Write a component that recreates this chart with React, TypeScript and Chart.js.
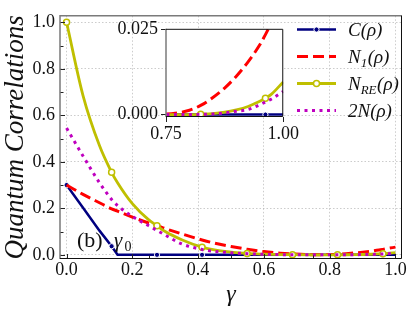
import React, { useEffect, useRef } from "react";
import { Chart, registerables } from "chart.js";

Chart.register(...registerables);

// ---------- data ----------
const GAMMA = [0, 0.05, 0.1, 0.137, 0.155, 0.2, 0.25, 0.275, 0.3, 0.35, 0.412, 0.45, 0.5, 0.549, 0.6, 0.65, 0.687, 0.75, 0.8, 0.824, 0.85, 0.875, 0.9, 0.925, 0.95, 0.962, 0.975, 1.0];
const C_RHO = [0.3, 0.202, 0.104, 0.037, 0, 0, 0, 0, 0, 0, 0, 0, 0, 0, 0, 0, 0, 0, 0, 0, 0, 0, 0, 0, 0, 0, 0, 0];
const N1_RHO = [0.3, 0.26, 0.224, 0.198, 0.188, 0.162, 0.137, 0.126, 0.113, 0.09, 0.064, 0.05, 0.036, 0.024, 0.014, 0.007, 0.0035, 0.0002, 0.0013, 0.0027, 0.005, 0.0078, 0.0113, 0.0155, 0.0205, 0.0235, 0.027, 0.033];
const NRE_RHO = [1.0, 0.685, 0.47, 0.355, 0.31, 0.22, 0.15, 0.125, 0.1, 0.065, 0.033, 0.021, 0.012, 0.006, 0.003, 0.0012, 0.0005, 0, 0, 0.0001, 0.0003, 0.0007, 0.0014, 0.0024, 0.0039, 0.0048, 0.006, 0.0096];
const TWO_N_RHO = [0.545, 0.425, 0.31, 0.238, 0.212, 0.165, 0.125, 0.105, 0.085, 0.047, 0.023, 0.015, 0.009, 0.005, 0.002, 0.0008, 0.0003, 0, 0, 0.0001, 0.0002, 0.0005, 0.001, 0.0015, 0.0029, 0.0037, 0.0046, 0.0068];
const MARKER_GAMMA = [0, 0.137, 0.275, 0.412, 0.549, 0.687, 0.824, 0.962];

const X_TICKS = [0, 0.2, 0.4, 0.6, 0.8, 1.0];
const Y_TICKS = [0, 0.2, 0.4, 0.6, 0.8, 1.0];
const X_MINOR = [0.25, 0.5, 0.75];
const Y_MINOR = [0.1, 0.3, 0.5, 0.7, 0.9];
const INSET_X_TICKS = [0.75, 1.0];
const INSET_Y_TICKS = [0, 0.025];

const SERIES_NAMES = ["C(ρ)", "N₁(ρ)", "N_RE(ρ)", "2N(ρ)"];
const LEGEND_PARTS = [
  [{ t: "C(ρ)" }],
  [{ t: "N" }, { t: "1", sub: true }, { t: "(ρ)" }],
  [{ t: "N" }, { t: "RE", sub: true }, { t: "(ρ)" }],
  [{ t: "2N(ρ)" }],
];
const X_TITLE = "γ";
const Y_TITLE = "Quantum Correlations";
const PANEL_LABEL = "(b)";
const PANEL_SYMBOL = "γ";
const PANEL_SUB = "0";

// ---------- styles ----------
const SERIF = '"Liberation Serif", "DejaVu Serif", serif';
const NAVY = "#000080";
const RED = "#ff0000";
const OLIVE = "#bfbf00";
const MAGENTA = "#bf00bf";
const GRID = "rgba(170,170,170,0.75)";
const TEXT = "#111";

const isMark = (c: any) => MARKER_GAMMA.includes(GAMMA[c.dataIndex]);
const pts = (vals: number[]) => GAMMA.map((g, i) => ({ x: g, y: vals[i] }));

function makeDatasets() {
  return [
    {
      label: SERIES_NAMES[0],
      data: pts(C_RHO),
      borderColor: NAVY,
      borderWidth: 2.5,
      tension: 0,
      pointRadius: (c: any) => (isMark(c) ? 2.6 : 0),
      pointBackgroundColor: NAVY,
      pointBorderColor: "#ffffff",
      pointBorderWidth: 1,
      order: 3,
    },
    {
      label: SERIES_NAMES[1],
      data: pts(N1_RHO),
      borderColor: RED,
      borderWidth: 3,
      borderDash: [11, 5],
      cubicInterpolationMode: "monotone",
      pointRadius: 0,
      order: 2,
    },
    {
      label: SERIES_NAMES[2],
      data: pts(NRE_RHO),
      borderColor: OLIVE,
      borderWidth: 2.8,
      cubicInterpolationMode: "monotone",
      pointRadius: (c: any) => (isMark(c) ? 3 : 0),
      pointBackgroundColor: "#ffffff",
      pointBorderColor: OLIVE,
      pointBorderWidth: 1.5,
      order: 1,
    },
    {
      label: SERIES_NAMES[3],
      data: pts(TWO_N_RHO),
      borderColor: MAGENTA,
      borderWidth: 3,
      borderDash: [3, 4.5],
      cubicInterpolationMode: "monotone",
      pointRadius: 0,
      order: 0,
    },
  ];
}

function drawLegend(ctx: CanvasRenderingContext2D) {
  const x0 = 297, x1 = 336, tx = 348, y0 = 29.5, dy = 27;
  const styles = [
    { color: NAVY, w: 2.5, dash: [], marker: "dot" },
    { color: RED, w: 3, dash: [11, 5], marker: "" },
    { color: OLIVE, w: 2.8, dash: [], marker: "circle" },
    { color: MAGENTA, w: 3, dash: [3, 4.5], marker: "" },
  ];
  ctx.save();
  styles.forEach((s, i) => {
    const y = y0 + i * dy;
    ctx.beginPath();
    ctx.setLineDash(s.dash);
    ctx.strokeStyle = s.color;
    ctx.lineWidth = s.w;
    ctx.moveTo(x0, y);
    ctx.lineTo(x1, y);
    ctx.stroke();
    ctx.setLineDash([]);
    const mx = (x0 + x1) / 2;
    if (s.marker === "dot") {
      ctx.beginPath();
      ctx.fillStyle = s.color;
      ctx.strokeStyle = "#fff";
      ctx.lineWidth = 1;
      ctx.arc(mx, y, 2.6, 0, Math.PI * 2);
      ctx.fill();
      ctx.stroke();
    } else if (s.marker === "circle") {
      ctx.beginPath();
      ctx.fillStyle = "#fff";
      ctx.strokeStyle = s.color;
      ctx.lineWidth = 1.5;
      ctx.arc(mx, y, 3, 0, Math.PI * 2);
      ctx.fill();
      ctx.stroke();
    }
    let x = tx;
    ctx.fillStyle = TEXT;
    ctx.textBaseline = "alphabetic";
    ctx.textAlign = "left";
    LEGEND_PARTS[i].forEach((p: any) => {
      if (p.sub) {
        ctx.font = `italic 13px ${SERIF}`;
        ctx.fillText(p.t, x, y + 10);
      } else {
        ctx.font = `italic 19px ${SERIF}`;
        ctx.fillText(p.t, x, y + 6.5);
      }
      x += ctx.measureText(p.t).width + (p.sub ? 0.5 : 0);
    });
  });
  ctx.restore();
}

const mainPlugin = {
  id: "mainDecor",
  afterDraw(chart: any) {
    const { ctx, chartArea } = chart;
    const { left, right, top, bottom } = chartArea;
    const xs = chart.scales.x, ys = chart.scales.y;
    ctx.save();
    ctx.strokeStyle = "#222";
    ctx.lineWidth = 1;
    ctx.beginPath();
    X_TICKS.forEach((v) => { const px = Math.round(xs.getPixelForValue(v)) + 0.5; ctx.moveTo(px, bottom); ctx.lineTo(px, bottom - 5); });
    X_MINOR.forEach((v) => { const px = Math.round(xs.getPixelForValue(v)) + 0.5; ctx.moveTo(px, bottom); ctx.lineTo(px, bottom - 3.5); });
    Y_TICKS.forEach((v) => { const py = Math.round(ys.getPixelForValue(v)) + 0.5; ctx.moveTo(left, py); ctx.lineTo(left + 5, py); });
    Y_MINOR.forEach((v) => { const py = Math.round(ys.getPixelForValue(v)) + 0.5; ctx.moveTo(left, py); ctx.lineTo(left + 3.5, py); });
    ctx.stroke();
    ctx.strokeStyle = "#7a7a7a";
    ctx.lineWidth = 1.5;
    ctx.beginPath();
    ctx.moveTo(left, bottom); ctx.lineTo(left, top); ctx.lineTo(right, top);
    ctx.stroke();
    ctx.strokeStyle = "#111";
    ctx.lineWidth = 1;
    ctx.beginPath();
    ctx.moveTo(right - 0.5, top); ctx.lineTo(right - 0.5, bottom - 0.5); ctx.lineTo(left, bottom - 0.5);
    ctx.stroke();
    ctx.fillStyle = TEXT;
    ctx.textBaseline = "alphabetic";
    ctx.textAlign = "left";
    ctx.font = `22px ${SERIF}`;
    ctx.fillText(PANEL_LABEL, 77, 247);
    ctx.font = `italic 21px ${SERIF}`;
    ctx.fillText(PANEL_SYMBOL, 114, 247);
    ctx.font = `14px ${SERIF}`;
    ctx.fillText(PANEL_SUB, 124.5, 251);
    drawLegend(ctx);
    ctx.restore();
  },
};

const insetPlugin = {
  id: "insetDecor",
  beforeDraw(chart: any) {
    const { ctx, chartArea } = chart;
    ctx.save();
    ctx.fillStyle = "#ffffff";
    ctx.fillRect(chartArea.left, chartArea.top, chartArea.right - chartArea.left, chartArea.bottom - chartArea.top);
    ctx.restore();
  },
  afterDraw(chart: any) {
    const { ctx, chartArea } = chart;
    const { left, right, top, bottom } = chartArea;
    ctx.save();
    ctx.strokeStyle = "#7a7a7a";
    ctx.lineWidth = 1.5;
    ctx.beginPath();
    ctx.moveTo(left, bottom); ctx.lineTo(left, top);
    ctx.stroke();
    ctx.strokeStyle = "#111";
    ctx.lineWidth = 1;
    ctx.beginPath();
    ctx.moveTo(left, top + 0.5); ctx.lineTo(right - 0.5, top + 0.5); ctx.lineTo(right - 0.5, bottom - 0.5); ctx.lineTo(left, bottom - 0.5);
    ctx.stroke();
    ctx.restore();
  },
};

export default function App() {
  const mainRef = useRef<HTMLCanvasElement>(null);
  const insetRef = useRef<HTMLCanvasElement>(null);

  useEffect(() => {
    const main = new Chart(mainRef.current as HTMLCanvasElement, {
      type: "line",
      data: { datasets: makeDatasets() as any },
      options: {
        animation: false,
        responsive: false,
        events: [],
        layout: { padding: { left: 0, top: 8, right: 13, bottom: 0 } },
        plugins: { legend: { display: false }, tooltip: { enabled: false } },
        scales: {
          x: {
            type: "linear",
            min: -0.02,
            max: 1.02,
            afterBuildTicks: (s: any) => { s.ticks = X_TICKS.map((v) => ({ value: v })); },
            afterFit: (s: any) => { s.height = 52; },
            ticks: { callback: (v: any) => Number(v).toFixed(1), font: { family: SERIF, size: 18 }, color: TEXT, padding: 0, maxRotation: 0, autoSkip: false },
            grid: { color: GRID, lineWidth: 0.8, drawTicks: false },
            border: { display: false, dash: [1.5, 2] },
            title: { display: true, text: X_TITLE, font: { family: SERIF, size: 24, style: "italic" }, color: TEXT, padding: { top: 0, bottom: 2 } },
          },
          y: {
            type: "linear",
            min: -0.018,
            max: 1.028,
            afterBuildTicks: (s: any) => { s.ticks = Y_TICKS.map((v) => ({ value: v })); },
            afterFit: (s: any) => { s.width = 60; },
            ticks: { callback: (v: any) => Number(v).toFixed(1), font: { family: SERIF, size: 18 }, color: TEXT, padding: 5, autoSkip: false },
            grid: { color: GRID, lineWidth: 0.8, drawTicks: false },
            border: { display: false, dash: [1.5, 2] },
            title: { display: true, text: Y_TITLE, font: { family: SERIF, size: 27, style: "italic" }, color: TEXT, padding: { top: 0, bottom: 0 } },
          },
        },
      },
      plugins: [mainPlugin],
    } as any);

    const inset = new Chart(insetRef.current as HTMLCanvasElement, {
      type: "line",
      data: { datasets: makeDatasets() as any },
      options: {
        animation: false,
        responsive: false,
        events: [],
        layout: { padding: { left: 0, top: 9, right: 9, bottom: 0 } },
        plugins: { legend: { display: false }, tooltip: { enabled: false } },
        scales: {
          x: {
            type: "linear",
            min: 0.75,
            max: 1.0,
            afterBuildTicks: (s: any) => { s.ticks = INSET_X_TICKS.map((v) => ({ value: v })); },
            afterFit: (s: any) => { s.height = 28; },
            ticks: { callback: (v: any) => Number(v).toFixed(2), font: { family: SERIF, size: 18 }, color: TEXT, padding: 1, maxRotation: 0, autoSkip: false },
            grid: { drawOnChartArea: false, drawTicks: true, tickLength: 5, tickColor: "#222", tickWidth: 1 },
            border: { display: false },
          },
          y: {
            type: "linear",
            min: -0.0007,
            max: 0.0252,
            afterBuildTicks: (s: any) => { s.ticks = INSET_Y_TICKS.map((v) => ({ value: v })); },
            afterFit: (s: any) => { s.width = 66; },
            ticks: { callback: (v: any) => Number(v).toFixed(3), font: { family: SERIF, size: 18 }, color: TEXT, padding: 3, autoSkip: false },
            grid: { drawOnChartArea: false, drawTicks: true, tickLength: 5, tickColor: "#222", tickWidth: 1 },
            border: { display: false },
          },
        },
      },
      plugins: [insetPlugin],
    } as any);

    return () => {
      main.destroy();
      inset.destroy();
    };
  }, []);

  return (
    <div style={{ position: "fixed", left: 0, top: 0, width: 415, height: 311, background: "#fff" }}>
      <canvas ref={mainRef} width={415} height={311} style={{ position: "absolute", left: 0, top: 0, width: 415, height: 311 }} />
      <canvas ref={insetRef} width={200} height={130} style={{ position: "absolute", left: 100, top: 15, width: 200, height: 130 }} />
    </div>
  );
}
